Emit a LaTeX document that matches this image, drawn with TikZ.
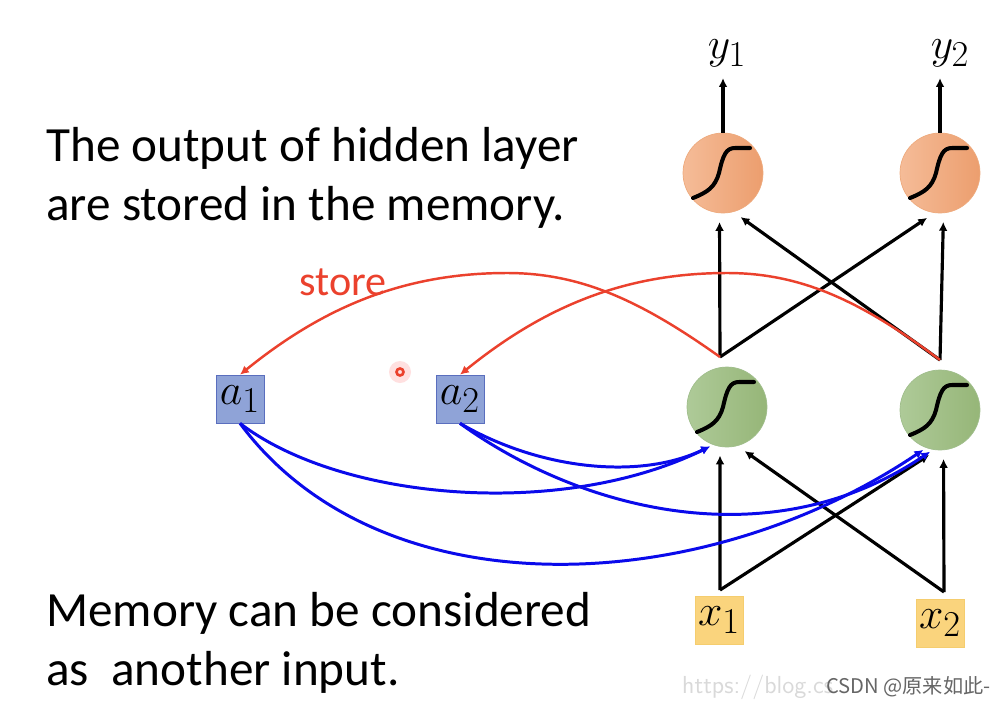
\documentclass[tikz,border=0pt]{standalone}
\usepackage{fontspec}
\newfontfamily\slidefont{Carlito}
\newfontfamily\markfont{Noto Sans CJK SC}
\usetikzlibrary{arrows.meta}
\definecolor{orangeL}{RGB}{245,188,152}
\definecolor{orangeR}{RGB}{236,158,110}
\definecolor{orangeD}{RGB}{238,170,125}
\definecolor{greenL}{RGB}{174,202,152}
\definecolor{greenR}{RGB}{150,182,120}
\definecolor{greenD}{RGB}{160,190,140}
\definecolor{memF}{RGB}{143,163,215}
\definecolor{memD}{RGB}{90,110,190}
\definecolor{inF}{RGB}{250,212,125}
\definecolor{inD}{RGB}{245,205,110}
\definecolor{memblue}{RGB}{10,10,235}
\definecolor{storered}{RGB}{235,65,45}

\begin{document}
\begin{tikzpicture}[x=0.02cm,y=-0.02cm,
                    >={Latex[length=5pt,width=5pt]},
                    unit/.style={circle,minimum size=1.6cm,inner sep=0pt,line width=0.4pt},
                    outnode/.style={unit,left color=orangeL,right color=orangeR,draw=orangeD},
                    hidnode/.style={unit,left color=greenL,right color=greenR,draw=greenD},
                    sigmoid/.style={line width=2.3pt,line cap=round},
                    membox/.style={fill=memF,draw=memD,minimum size=0.96cm,inner sep=0pt,font=\fontsize{29}{29}\selectfont},
                    inbox/.style={fill=inF,draw=inD,minimum size=0.96cm,inner sep=0pt,font=\fontsize{29}{29}\selectfont},
                    outlabel/.style={font=\fontsize{30}{30}\selectfont},
                    wire/.style={->,line width=1.8pt,shorten >=5pt},
                    memwire/.style={->,draw=memblue,line width=1.7pt,shorten >=2pt},
                    storearrow/.style={->,draw=storered,line width=1.4pt},
                    slidetext/.style={font=\slidefont\fontsize{28}{34}\selectfont,align=left,inner sep=0pt}
                   ]
  \fill[white] (0,0) rectangle (994,704);
  \useasboundingbox (0,0) rectangle (994,704);

  % text on the slide
  \node[slidetext,anchor=west] (topnote) at (46,178) {The output of hidden layer\\are stored in the memory.};
  \node[slidetext,anchor=west] (botnote) at (46,643) {Memory can be considered\\as~ another input.};
  \node[slidetext,text=storered,font=\slidefont\fontsize{24}{24}\selectfont] (storetxt) at (343,282) {store};

  % network
  \node[outlabel] (y1) at (727,53) {$y_1$};
  \node[outlabel] (y2) at (950,53) {$y_2$};
  \node[outnode] (o1) at (723,173) {};
  \node[outnode] (o2) at (940,173) {};
  \node[hidnode] (h1) at (727,407) {};
  \node[hidnode] (h2) at (940,410) {};
  \node[inbox] (x1) at (719,620) {$x_1$};
  \node[inbox] (x2) at (940,623) {$x_2$};
  \node[membox] (a1) at (240,399) {$a_1$};
  \node[membox] (a2) at (460,399) {$a_2$};

  \foreach \n in {o1,o2,h1,h2}
    \draw[sigmoid,shift={(\n.center)}] (-30,25) .. controls (-15,19) and (-8,14) .. (-4,0)
         .. controls (0,-18) and (3,-25) .. (12,-25) -- (27,-25);

  \coordinate (h1t) at (720,357);
  \coordinate (h2t) at (940,360);
  \coordinate (x1t) at (720,590);
  \coordinate (x2t) at (944,592);

  \draw[wire,shorten >=3pt] (o1.north) -- (o1.north |- y1.south);
  \draw[wire,shorten >=3pt] (o2.north) -- (o2.north |- y2.south);

  \draw[wire] (h1t) -- (o1.265);
  \draw[wire] (h1t) -- (o2.262);
  \draw[wire] (h2t) -- (o2.275);
  \draw[wire] (h2t) -- (o1.285);

  \draw[wire] (x1t) -- (h1.260);
  \draw[wire] (x1t) -- (h2.265);
  \draw[wire] (x2t) -- (h2.275);
  \draw[wire] (x2t) -- (h1.285);

  % memory
  \draw[storearrow] (h1t) .. controls (640,300) and (580,273) .. (507,273)
                          .. controls (400,273) and (320,310) .. (a1.north);
  \draw[storearrow] (h2t) .. controls (860,300) and (800,273) .. (727,273)
                          .. controls (620,273) and (540,310) .. (a2.north);

  \draw[memwire] (a1.south) .. controls (340,500) and (560,520) .. (h1.250);
  \draw[memwire] (a1.south) .. controls (380,612) and (700,600) .. (h2.250);
  \draw[memwire] (a2.south) .. controls (540,470) and (640,480) .. (h1.250);
  \draw[memwire] (a2.south) .. controls (580,510) and (770,560) .. (h2.260);

  % pointer dot
  \fill[red!12] (400,372) circle (11);
  \draw[storered,line width=1.5pt] (400,372) circle (3.5);

  % watermark
  \node[anchor=west,text=black!15,font=\fontsize{14}{14}\selectfont\sffamily] (url) at (676,687) {https://blog.cs};
  \node[anchor=west,text=black!60,font=\markfont\fontsize{11.5}{12}\selectfont] (mark) at (820,687) {CSDN @原来如此-};
\end{tikzpicture}
\end{document}
